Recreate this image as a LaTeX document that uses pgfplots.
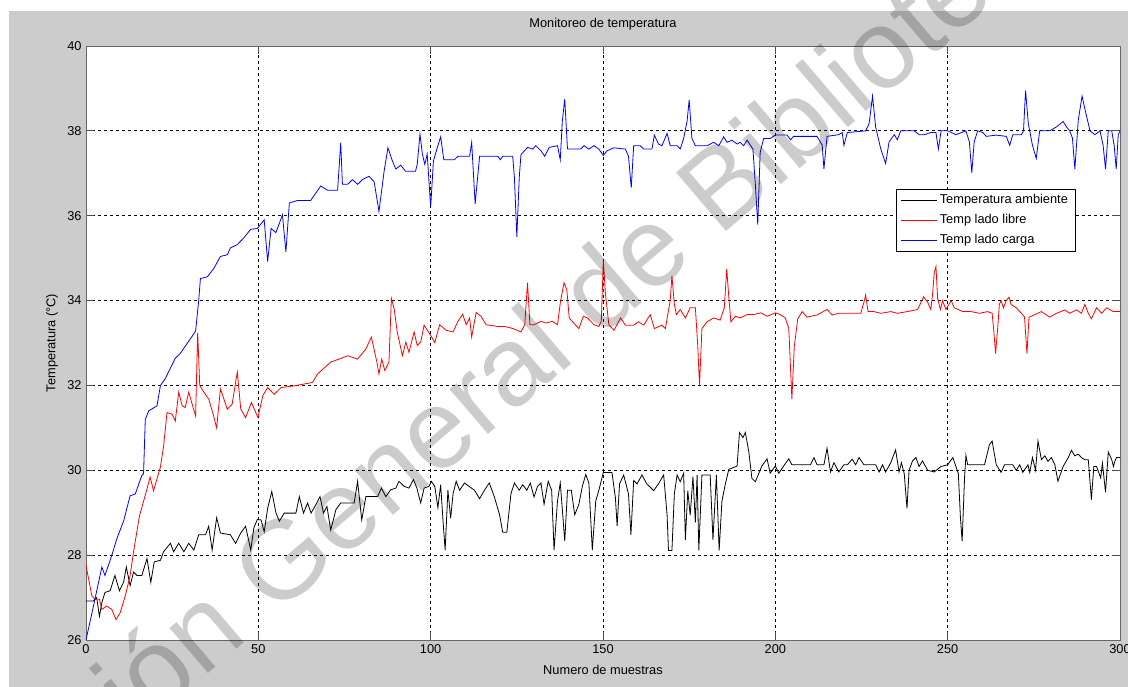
\documentclass[border=0pt]{standalone}
\usepackage{pgfplots}
\pgfplotsset{compat=1.18}
\usepackage{fontspec}
\setmainfont{Liberation Sans}
\definecolor{figgray}{RGB}{204,204,204}

\pgfplotstableread{
x y
0 26.92
2.1 26.92
3.1 27.0
3.9 26.56
4.6 26.88
5.5 27.12
7.0 27.16
8.4 27.52
9.7 27.16
10.9 27.36
11.7 27.72
12.8 27.28
13.8 27.6
14.8 27.52
16.2 27.52
17.7 27.92
18.8 27.36
19.8 27.84
21.6 27.88
22.5 28.08
24.5 28.28
25.4 28.08
26.9 28.28
28.4 28.08
29.8 28.28
31.3 28.12
32.7 28.48
34.7 28.48
35.6 28.68
36.6 28.12
37.9 28.88
39.0 28.52
41.9 28.48
43.4 28.28
44.9 28.52
46.3 28.68
47.8 28.12
48.7 28.64
49.7 28.84
50.8 28.83
51.7 28.55
52.7 29.1
53.9 29.5
55.1 29.0
56.1 28.8
57.5 28.99
60.9 28.99
61.9 29.38
63.1 28.99
64.3 29.23
65.3 28.99
66.7 29.19
67.9 29.38
68.9 28.99
69.9 29.15
71.0 28.59
72.5 29.07
73.9 29.23
77.8 29.23
78.8 29.74
80.0 28.83
81.2 29.38
84.6 29.38
85.7 29.58
87.0 29.38
88.4 29.54
89.9 29.58
90.8 29.74
92.3 29.62
93.7 29.58
95.0 29.78
96.0 29.58
97.1 29.23
98.1 29.58
99.5 29.62
100.2 29.74
101.2 29.62
102.1 29.12
102.9 29.66
103.6 28.79
104.2 28.12
105.0 29.53
105.8 28.87
106.5 29.45
107.4 29.74
108.4 29.53
109.8 29.7
112.7 29.53
114.2 29.33
115.6 29.53
117.0 29.7
118.5 29.37
120.0 28.95
120.9 28.54
122.1 28.54
123.3 29.45
124.3 29.7
125.7 29.53
126.7 29.66
127.9 29.53
128.9 29.7
130.0 29.37
131.0 29.62
132.0 29.7
132.9 29.2
134.1 29.74
135.1 29.53
135.8 28.12
136.8 29.28
137.6 29.7
138.2 29.08
138.9 28.33
139.7 29.53
140.8 29.53
141.8 28.95
143.0 29.2
144.0 29.62
145.0 29.9
145.9 29.7
146.9 28.12
147.9 29.28
148.8 29.53
150.1 29.95
152.6 29.95
153.6 29.35
154.1 28.69
154.8 29.68
156.0 29.89
157.4 29.44
158.1 28.48
158.9 29.76
159.9 29.68
161.3 29.89
162.7 29.68
164.7 29.52
166.1 29.68
167.6 29.89
168.6 28.94
169.0 28.11
170.0 28.11
170.7 29.44
171.5 29.89
172.4 29.73
173.4 29.93
173.9 28.36
174.6 29.52
175.3 28.94
176.1 29.85
176.8 28.77
177.3 29.89
177.8 28.11
178.7 29.89
181.1 29.89
181.9 28.36
182.9 29.89
183.7 28.11
184.5 29.27
185.5 29.68
186.5 30.02
188.9 30.1
189.6 30.89
190.6 30.77
191.3 30.89
192.3 30.44
193.2 29.81
194.2 29.73
196.1 30.1
197.6 30.27
198.5 29.93
200.0 30.1
201.0 29.93
202.4 30.1
203.9 30.27
204.8 30.13
210.2 30.13
211.2 30.3
212.1 30.13
214.1 30.13
215.0 30.52
216.0 29.96
217.0 30.18
218.4 29.96
219.9 30.13
220.9 30.13
222.3 30.26
223.3 30.13
224.3 30.3
225.7 30.13
229.1 30.13
230.1 29.96
231.1 30.13
232.0 29.96
233.5 30.18
234.9 30.48
235.9 29.96
236.6 30.18
237.4 29.92
238.2 29.1
238.8 30.0
239.8 30.22
240.8 30.3
241.7 30.09
242.7 30.22
244.2 30.0
246.1 29.96
248.1 30.09
250.0 30.13
251.5 30.3
252.4 30.09
253.1 29.92
253.7 28.89
254.2 28.33
254.9 29.83
255.3 30.35
255.8 30.13
260.7 30.13
262.1 30.6
262.9 30.69
264.1 30.13
265.5 29.95
266.5 30.13
268.9 30.13
269.9 30.0
270.9 30.13
271.8 29.95
273.3 30.13
273.8 29.95
274.6 30.3
275.5 30.0
276.2 30.69
277.2 30.25
278.2 30.34
279.1 30.21
280.1 30.3
281.1 30.13
282.0 29.74
283.5 30.09
285.0 30.3
285.9 30.47
286.9 30.34
287.9 30.38
288.8 30.3
289.8 30.25
290.8 30.25
291.7 29.31
292.4 30.09
293.2 30.09
294.4 29.82
294.9 30.17
295.8 29.48
296.6 30.43
297.6 30.25
298.1 30.09
298.5 30.21
299.0 30.3
300 30.3
}\ambiente

\pgfplotstableread{
x y
0 27.76
1.7 27.04
2.6 26.96
3.9 26.96
4.6 26.72
6.0 26.8
7.5 26.72
8.7 26.48
9.9 26.64
11.4 27.04
12.8 27.52
13.8 28.08
15.5 28.92
17.7 29.56
18.6 29.84
19.6 29.52
21.6 30.08
22.5 30.56
23.5 31.36
25.0 31.32
25.9 31.16
26.9 31.84
27.9 31.52
28.8 31.48
29.8 31.84
30.8 31.56
31.8 31.28
32.4 33.24
33.0 32.0
34.2 31.84
35.6 31.68
36.9 31.32
37.9 31.0
39.0 31.92
41.0 31.44
42.4 31.56
43.9 32.32
44.9 31.44
46.3 31.24
48.0 31.6
49.9 31.24
51.3 31.76
52.7 31.95
54.6 31.79
56.6 31.95
60.4 31.99
65.7 32.07
67.2 32.27
71.0 32.55
73.4 32.62
75.9 32.7
78.8 32.62
81.2 32.86
82.8 33.14
84.4 32.55
85.0 32.27
85.8 32.62
86.7 32.35
87.9 32.55
88.6 34.05
89.4 33.81
90.3 33.26
91.8 32.7
92.8 33.02
93.7 32.78
95.2 33.26
96.1 32.94
97.1 33.02
98.1 33.42
98.7 33.34
100.0 33.18
101.2 33.01
102.6 33.43
104.5 33.3
106.5 33.26
107.9 33.51
109.3 33.68
110.3 33.43
111.3 33.59
111.9 33.14
113.2 33.72
114.6 33.63
116.1 33.43
119.5 33.39
121.4 33.39
123.9 33.34
126.2 33.26
127.3 33.43
128.1 34.42
128.8 33.43
130.0 33.43
132.0 33.51
133.4 33.47
135.3 33.51
136.8 33.43
137.7 34.0
138.7 34.42
139.5 34.26
140.2 33.59
140.6 33.55
143.0 33.34
144.3 33.63
145.5 33.59
147.4 33.43
148.8 33.39
149.5 33.51
150.1 34.96
150.7 34.17
151.7 33.43
153.2 33.3
155.1 33.59
156.5 33.42
158.9 33.42
160.3 33.5
161.8 33.42
163.7 33.67
164.9 33.34
167.1 33.42
168.1 33.34
169.5 34.0
170.0 34.58
170.7 33.92
171.3 33.67
172.4 33.79
173.9 33.59
175.3 33.83
176.8 33.83
177.5 32.92
178.0 32.0
178.7 33.34
180.2 33.5
182.1 33.59
184.0 33.54
185.2 33.83
185.9 34.75
186.5 34.08
187.1 33.5
188.4 33.63
189.8 33.59
191.8 33.67
193.7 33.67
195.8 33.71
197.6 33.63
200.0 33.71
201.4 33.67
202.9 33.59
203.9 33.34
204.4 32.42
204.8 31.68
205.5 32.92
206.5 33.57
207.8 33.74
209.2 33.61
212.1 33.66
215.0 33.79
216.5 33.66
218.4 33.7
224.8 33.7
225.7 33.96
226.2 34.13
226.9 33.74
228.6 33.74
230.6 33.7
233.5 33.74
235.4 33.7
238.3 33.74
241.3 33.79
243.0 34.09
244.2 33.96
245.1 33.79
245.6 34.13
246.1 34.65
246.6 34.8
247.1 34.04
247.9 33.79
248.5 34.0
249.5 33.79
251.0 34.0
251.9 33.83
254.4 33.74
256.8 33.74
259.2 33.7
261.6 33.74
262.9 33.7
263.4 33.27
263.9 32.75
264.6 33.44
265.0 33.91
265.5 34.0
266.2 33.83
267.0 34.0
267.8 34.08
268.4 33.91
269.9 33.83
271.4 33.7
272.3 33.61
273.0 32.75
273.6 33.61
274.8 33.65
277.2 33.74
279.6 33.61
281.6 33.7
284.0 33.78
285.4 33.7
287.4 33.78
288.8 33.7
289.8 33.91
290.8 33.7
291.7 33.57
293.2 33.83
294.7 33.7
296.1 33.83
298.1 33.74
300 33.74
}\libre

\pgfplotstableread{
x y
0 26.0
2.3 26.85
4.6 27.72
5.5 27.52
7.5 28.0
9.0 28.4
10.9 28.8
12.8 29.4
14.3 29.44
16.2 29.88
16.7 29.92
17.2 31.2
18.2 31.4
20.6 31.52
21.6 32.0
23.0 32.16
25.9 32.64
27.4 32.76
30.8 33.16
31.8 33.28
32.7 34.0
33.2 34.52
35.2 34.56
37.1 34.76
39.0 35.04
41.0 35.08
41.9 35.24
43.9 35.32
45.8 35.48
47.8 35.68
49.7 35.7
51.7 35.9
52.7 34.92
53.7 35.7
55.1 35.6
57.0 36.02
58.0 35.15
59.0 36.3
61.4 36.36
65.2 36.36
68.1 36.7
70.1 36.6
73.0 36.6
73.9 37.72
74.4 36.74
75.9 36.74
77.3 36.85
78.8 36.74
80.2 36.85
82.1 36.93
83.6 36.8
85.0 36.1
86.5 37.05
87.6 37.6
88.9 37.29
89.9 37.1
91.3 37.19
92.7 37.05
95.6 37.05
96.1 37.21
96.9 37.92
97.6 37.45
98.3 37.21
99.0 37.45
100.0 36.2
100.8 37.29
101.9 37.6
102.9 37.86
103.8 37.32
106.9 37.32
107.9 37.4
111.3 37.4
111.9 37.73
112.9 36.28
114.2 37.4
119.5 37.4
120.2 37.32
120.9 37.4
123.8 37.4
124.3 36.9
125.0 35.5
125.7 36.9
126.2 37.44
128.1 37.61
129.6 37.57
130.5 37.65
132.0 37.53
133.1 37.4
134.4 37.61
136.8 37.65
137.6 37.32
138.2 38.23
138.9 38.75
139.7 37.57
143.5 37.57
144.5 37.65
145.9 37.57
147.4 37.65
148.8 37.57
150.1 37.42
151.2 37.53
153.1 37.6
156.5 37.57
157.4 37.4
158.2 36.66
158.9 37.65
160.8 37.65
161.8 37.57
164.2 37.57
164.9 37.9
166.1 37.69
167.1 37.65
168.6 37.94
169.5 37.65
171.5 37.65
172.4 37.57
173.4 37.82
174.4 38.23
175.0 38.73
175.8 37.82
176.8 37.65
180.2 37.65
182.1 37.73
183.6 37.65
185.0 37.86
186.0 37.73
187.4 37.78
188.9 37.69
189.8 37.73
190.8 37.65
191.8 37.78
193.5 37.57
194.2 36.74
194.9 35.79
195.6 37.49
196.6 37.82
198.5 37.82
200.0 37.9
203.4 37.9
204.4 37.79
205.3 37.87
212.1 37.87
213.6 37.66
214.1 37.1
215.0 37.87
218.4 37.91
219.4 37.96
219.9 37.66
220.9 37.96
226.2 38.0
227.2 38.17
228.2 38.82
229.1 38.09
230.6 37.57
232.0 37.23
233.0 37.74
234.5 37.91
235.4 37.79
236.4 38.0
240.3 38.0
241.7 37.91
243.2 37.91
245.1 37.96
246.6 37.96
247.3 37.57
248.1 38.0
250.0 38.0
252.4 37.91
255.3 38.0
256.3 37.74
257.0 37.01
257.7 37.74
258.7 38.0
260.2 37.96
261.2 37.87
264.1 37.9
267.0 37.87
268.0 37.66
268.9 37.91
271.4 37.91
272.0 38.0
272.6 38.95
273.4 38.17
274.6 37.66
275.7 37.35
276.7 38.0
279.6 38.0
281.5 38.09
283.5 38.22
284.5 38.09
285.4 38.0
286.2 37.83
286.9 37.1
287.9 38.26
289.0 38.82
289.8 38.52
291.3 38.0
292.7 37.91
294.2 38.0
295.1 37.66
295.8 37.1
296.6 38.0
297.6 38.0
298.3 37.66
298.9 37.1
299.5 37.91
300 38.0
}\carga

\begin{document}
\fontsize{12.8}{15}\selectfont
\begin{tikzpicture}
\path[use as bounding box] (-86pt,-47pt) rectangle (1042pt,640pt);
\fill[figgray] (-77pt,-47pt) rectangle (1042pt,629pt);
\begin{axis}[
  at={(0pt,0pt)}, anchor=south west,
  scale only axis, width=1034pt, height=594pt,
  xmin=0, xmax=300, ymin=26, ymax=40,
  xtick={0,50,...,300}, ytick={26,28,...,40},
  grid=major,
  major grid style={black, dash pattern=on 3pt off 3pt, line width=0.7pt},
  axis line style={black!60, line width=0.9pt},
  axis background/.style={fill=white},
  tick align=inside, major tick length=8pt,
  tick style={black!70, line width=0.8pt},
  /pgf/number format/assume math mode=true,
  ticklabel style={font=\fontsize{12.8}{15}\selectfont},
  title={Monitoreo de temperatura},
  title style={at={(axis description cs:0.5,1.027)}, anchor=center, font=\fontsize{12.8}{15}\selectfont},
  xlabel={Numero de muestras},
  xlabel style={at={(axis description cs:0.5,-0.0505)}, anchor=center, font=\fontsize{12.8}{15}\selectfont},
  ylabel={Temperatura (°C)},
  ylabel style={at={(axis description cs:-0.0329,0.5)}, anchor=center, font=\fontsize{12.8}{15}\selectfont},
  legend cell align=left,
  legend image code/.code={\draw[#1] (0pt,0pt) -- (36pt,0pt);},
  legend style={at={(0.783,0.759)}, anchor=north west, fill=white,
    line width=0.8pt, font=\fontsize{12.8}{15}\selectfont,
    inner xsep=5pt, inner ysep=1pt, row sep=0pt,
    nodes={inner sep=2pt, text height=11pt, text depth=5pt}},
]
\addplot[color=black, line width=0.8pt] table {\ambiente};
\addlegendentry{Temperatura ambiente}
\addplot[color=red, line width=0.8pt] table {\libre};
\addlegendentry{Temp lado libre}
\addplot[color=blue, line width=0.8pt] table {\carga};
\addlegendentry{Temp lado carga}
\end{axis}
\begin{scope}[shift={(188pt,22pt)}, rotate=40.5, transform shape]
\node[anchor=base west, inner sep=0pt, text=black, text opacity=0.2] at (0,0) {\fontsize{112}{112}\selectfont General de Bibliotecas};
\node[anchor=base east, inner sep=0pt, text=black, text opacity=0.2] at (-31pt,0) {\fontsize{112}{112}\selectfont Dirección};
\end{scope}
\end{tikzpicture}
\end{document}
